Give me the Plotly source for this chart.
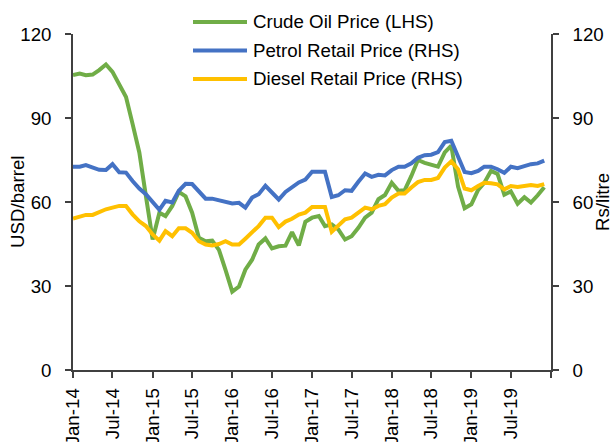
import pandas as pd
import plotly.graph_objects as go

months = pd.date_range("2014-01-01", periods=72, freq="MS")

crude_usd = [105.3, 105.9, 105.3, 105.5, 107.1, 109.1, 106.5, 102.3, 97.5, 87.9, 77.7, 62.2,
             46.6, 56.2, 55.0, 58.6, 63.6, 62.0, 56.2, 47.2, 46.0, 46.2, 42.9, 35.8,
             28.0, 29.8, 35.8, 39.4, 44.8, 47.0, 43.4, 44.2, 44.4, 49.2, 44.5, 52.9,
             54.4, 55.0, 51.4, 52.0, 50.2, 46.6, 47.8, 50.8, 54.4, 56.2, 61.0, 62.5,
             66.9, 64.0, 64.2, 69.3, 75.0, 74.0, 73.4, 72.6, 77.7, 80.1, 65.5, 57.8,
             59.2, 64.3, 66.8, 71.1, 70.0, 62.6, 63.8, 59.4, 61.7, 59.8, 62.4, 65.3]

petrol_rs = [72.6, 72.6, 73.2, 72.2, 71.5, 71.4, 73.5, 70.6, 70.5, 67.5, 64.8, 62.8,
             60.0, 57.2, 60.4, 59.8, 64.0, 66.5, 66.4, 64.0, 61.2, 61.2, 60.7, 60.1,
             59.5, 59.7, 58.0, 61.6, 62.8, 65.8, 63.4, 60.9, 63.6, 65.2, 67.0, 68.0,
             70.8, 70.8, 70.8, 61.8, 62.4, 64.2, 64.0, 67.2, 70.2, 69.0, 69.7, 69.5,
             71.4, 72.6, 72.6, 73.8, 75.8, 76.7, 76.9, 77.8, 81.4, 81.9, 76.2, 70.7,
             70.3, 71.1, 72.6, 72.6, 71.7, 70.4, 72.6, 72.1, 72.8, 73.5, 73.8, 74.8]

diesel_rs = [54.1, 54.7, 55.4, 55.4, 56.5, 57.4, 58.0, 58.6, 58.6, 55.6, 53.1, 51.4,
             48.4, 46.2, 49.6, 47.8, 50.6, 50.6, 49.0, 46.0, 44.8, 44.5, 45.0, 46.0,
             44.8, 44.8, 46.9, 49.0, 51.4, 54.4, 54.4, 51.0, 53.0, 54.0, 55.5, 56.2,
             58.2, 58.2, 58.2, 49.4, 51.4, 53.8, 54.4, 56.2, 58.0, 57.4, 58.6, 59.2,
             61.6, 63.0, 63.0, 65.2, 67.1, 67.9, 67.9, 68.6, 72.3, 74.5, 71.7, 64.8,
             64.2, 65.7, 66.9, 66.7, 66.3, 64.5, 65.7, 65.4, 65.7, 66.1, 65.7, 66.4]

tick_labels = ["Jan-14", "Jul-14", "Jan-15", "Jul-15", "Jan-16", "Jul-16",
               "Jan-17", "Jul-17", "Jan-18", "Jul-18", "Jan-19", "Jul-19", ""]
tick_dates = pd.date_range("2014-01-01", periods=len(tick_labels), freq="6MS")

series_names = ["Crude Oil Price (LHS)", "Petrol Retail Price (RHS)", "Diesel Retail Price (RHS)"]
colors = ["#70AD47", "#4472C4", "#FFC000"]

FONT = "Liberation Sans, Arial, sans-serif"
FS = 18.7
AXC = "#404040"

fig = go.Figure()
fig.add_trace(go.Scatter(x=months, y=crude_usd, name=series_names[0], mode="lines",
                         line=dict(color=colors[0], width=4), yaxis="y"))
fig.add_trace(go.Scatter(x=months, y=petrol_rs, name=series_names[1], mode="lines",
                         line=dict(color=colors[1], width=4), yaxis="y2"))
fig.add_trace(go.Scatter(x=months, y=diesel_rs, name=series_names[2], mode="lines",
                         line=dict(color=colors[2], width=4), yaxis="y2"))

W, H = 612, 442
L, R, T, B = 73, 61, 34, 72
pw, ph = W - L - R, H - T - B


def px(x):
    return (x - L) / pw


def py(y):
    return (H - B - y) / ph


shapes = []
annotations = []
legend_rows = [22, 50.5, 79]
for name, col, yy in zip(series_names, colors, legend_rows):
    shapes.append(dict(type="line", xref="paper", yref="paper",
                       x0=px(193), x1=px(247), y0=py(yy), y1=py(yy),
                       line=dict(color=col, width=4)))
    annotations.append(dict(xref="paper", yref="paper", x=px(251), y=py(yy),
                            text=name, showarrow=False, xanchor="left", yanchor="middle",
                            font=dict(family=FONT, size=FS, color="black")))

annotations.append(dict(xref="paper", yref="paper", x=px(17), y=0.5, text="USD/barrel",
                        textangle=-90, showarrow=False, xanchor="center", yanchor="middle",
                        font=dict(family=FONT, size=FS, color="black")))
annotations.append(dict(xref="paper", yref="paper", x=px(602), y=0.5, text="Rs/litre",
                        textangle=-90, showarrow=False, xanchor="center", yanchor="middle",
                        font=dict(family=FONT, size=FS, color="black")))

fig.update_layout(
    template="none",
    width=W, height=H,
    margin=dict(l=L, r=R, t=T, b=B, autoexpand=False),
    paper_bgcolor="white", plot_bgcolor="white",
    showlegend=False,
    font=dict(family=FONT, size=FS, color="black"),
    xaxis=dict(type="date", range=[tick_dates[0], tick_dates[-1]], automargin=False,
               tickmode="array", tickvals=list(tick_dates), ticktext=tick_labels,
               tickangle=-90, ticks="outside", ticklen=6, tickcolor=AXC, tickwidth=1.5,
               ticklabelstandoff=3,
               showline=True, linecolor=AXC, linewidth=1.5, showgrid=False, zeroline=False),
    yaxis=dict(range=[0, 120], tickvals=[0, 30, 60, 90, 120], ticks="outside", ticklen=6,
               tickcolor=AXC, tickwidth=1.5, showline=True, linecolor=AXC, linewidth=1.5,
               showgrid=False, zeroline=False, ticklabelstandoff=10, automargin=False),
    yaxis2=dict(range=[0, 120], tickvals=[0, 30, 60, 90, 120], ticks="outside", ticklen=6,
                tickcolor=AXC, tickwidth=1.5, showline=True, linecolor=AXC, linewidth=1.5,
                showgrid=False, zeroline=False, overlaying="y", side="right",
                ticklabelstandoff=10, automargin=False),
    shapes=shapes,
    annotations=annotations,
)

fig.write_html("out.html", config={"displayModeBar": False},
               post_script="document.body.style.margin='0';document.body.style.overflow='hidden';")
